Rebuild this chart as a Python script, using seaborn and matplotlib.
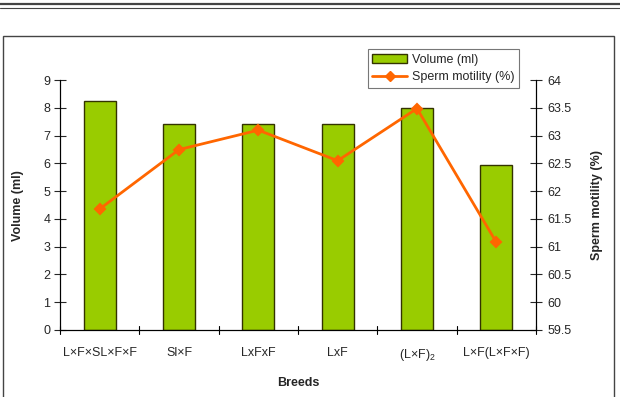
import matplotlib
matplotlib.use("Agg")
import matplotlib.pyplot as plt
import seaborn as sns
from matplotlib.lines import Line2D
from matplotlib.patches import Patch, Rectangle

# values
breeds = ["L×F×SL×F×F", "Sl×F", "LxFxF", "LxF", "(L×F)$_2$", "L×F(L×F×F)"]
volume_ml = [8.24, 7.41, 7.41, 7.41, 7.99, 5.95]
motility_pct = [61.68, 62.75, 63.10, 62.55, 63.49, 61.08]

vol_ticks = list(range(0, 10))
mot_ticks = [59.5, 60, 60.5, 61, 61.5, 62, 62.5, 63, 63.5, 64]

sns.set_style("white")
plt.rcParams["font.family"] = ["Liberation Sans", "DejaVu Sans"]
plt.rcParams["mathtext.fontset"] = "custom"
plt.rcParams["mathtext.rm"] = "Liberation Sans"
plt.rcParams["mathtext.it"] = "Liberation Sans"

bar_col = "#99CC00"
line_col = "#FF6600"

fig = plt.figure(figsize=(6.2, 3.97), dpi=100)
ax = fig.add_axes([0.0968, 0.1688, 0.7677, 0.6292])

sns.barplot(x=list(range(len(breeds))), y=volume_ml, ax=ax, color=bar_col,
            width=0.4, edgecolor="#333300", linewidth=1.0, saturation=1)

ax2 = ax.twinx()
sns.pointplot(x=list(range(len(breeds))), y=motility_pct, ax=ax2, color=line_col,
              markers="D", markersize=5, linewidth=2)
ax2.set_xlabel("")
ax2.xaxis.set_visible(False)

for a in (ax, ax2):
    a.set_xlim(-0.5, len(breeds) - 0.5)
    a.spines["top"].set_visible(False)
    for s in a.spines.values():
        s.set_color("black")
        s.set_linewidth(0.8)

ax.set_ylim(0, 9)
ax.set_yticks(vol_ticks)
ax2.set_ylim(59.5, 64)
ax2.set_yticks(mot_ticks)
ax2.set_yticklabels([f"{t:g}" for t in mot_ticks])

# category labels at centres, tick marks between categories
ax.set_xticks(range(len(breeds)))
ax.set_xticklabels(breeds, fontsize=9)
ax.tick_params(axis="x", length=0, pad=12)
for i in range(len(breeds) + 1):
    ax.plot([i - 0.5, i - 0.5], [-0.15, 0.15], color="black", lw=0.8,
            clip_on=False, zorder=5)

ax.tick_params(axis="y", direction="inout", length=8, width=0.8, labelsize=9, pad=3)
ax2.tick_params(axis="y", direction="inout", length=8, width=0.8, labelsize=9, pad=4)

ax.set_xlabel("Breeds", fontsize=9, fontweight="bold", labelpad=10)
ax.set_ylabel("Volume (ml)", fontsize=9, fontweight="bold", labelpad=14)
ax2.set_ylabel("Sperm motility (%)", fontsize=9, fontweight="bold", labelpad=14)

handles = [Patch(facecolor=bar_col, edgecolor="#333300", linewidth=1.0),
           Line2D([0], [0], color=line_col, lw=2, marker="D", markersize=5)]
leg = fig.legend(handles, ["Volume (ml)", "Sperm motility (%)"],
                 loc="upper left", bbox_to_anchor=(0.583, 0.892),
                 fontsize=9, frameon=True, fancybox=False, borderpad=0.35,
                 handlelength=2.8, handletextpad=0.4, labelspacing=0.45)
leg.get_frame().set_edgecolor("#555555")
leg.get_frame().set_linewidth(0.8)

# outer chart frame and the page header rule
fig.patches.append(Rectangle((3 / 620, -0.01), 611 / 620, 1 - 36 / 397 + 0.01,
                             transform=fig.transFigure, fill=False,
                             edgecolor="#444444", lw=1.0))
fig.lines.append(Line2D([0, 1], [1 - 4 / 397] * 2, transform=fig.transFigure,
                        color="#444444", lw=1.6))
fig.lines.append(Line2D([0, 1], [1 - 8 / 397] * 2, transform=fig.transFigure,
                        color="#444444", lw=0.8))

fig.savefig("out.png", dpi=100)
